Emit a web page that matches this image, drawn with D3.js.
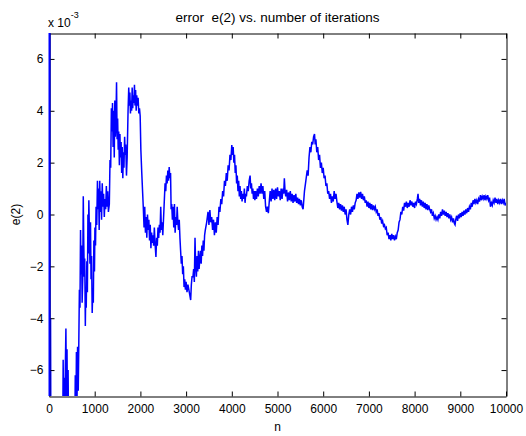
<!DOCTYPE html>
<html>
<head>
<meta charset="utf-8">
<script src="https://cdn.jsdelivr.net/npm/d3@7"></script>
<style>
  body { margin: 0; background: #fff; }
  text { font-family: "Liberation Sans", Arial, sans-serif; }
</style>
</head>
<body>
<div id="chart"></div>
<script>
// 1. SETUP
const width = 526;
const height = 436;
const margin = { top: 33, right: 20, bottom: 40, left: 49 };

// DATA: error e(2) (in units of 1e-3), [iteration, value]
const e2Trace = [
  [0, 30], [6, -30], [12, 20], [18, -1.3], [24, -15], [34, -4], [44, -11], [60, -8.5], [90, -10], [120, -8.2],
  [160, -9.5], [200, -8], [240, -9], [280, -7.6], [300, -8.5], [310, -5.6], [320, -7.9], [332, -6.3], [345, -8.8], [358, -5.8],
  [370, -4.4], [382, -7.2], [394, -5.2], [406, -8.0], [418, -6.0], [430, -9.0], [470, -10], [520, -8.5], [560, -9.2], [575, -6.2],
  [588, -8], [600, -5.3], [612, -7.4], [625, -5.1], [640, -6.8], [652, -5.0], [665, -2.9], [678, -3.6], [690, -0.6], [700, -2.3],
  [712, -1.2], [725, -3.4], [738, -2.5], [750, 0.7], [760, -1.0], [772, -2.4], [782, -1.7], [795, -4.3], [805, -2.8], [815, -3.6],
  [828, -1.8], [840, -3.0], [852, 0.0], [862, -1.5], [872, 0.55], [885, -0.8], [896, -1.9], [908, -0.3], [920, -2.5], [932, -1.6],
  [945, -3.8], [958, -2.9], [970, -3.4], [982, -1.0], [995, -2.2], [1005, -0.5], [1018, -1.2], [1030, 0.3], [1045, -0.4], [1060, 1.3],
  [1072, 0.2], [1085, 1.0], [1098, -0.6], [1110, 1.3], [1125, 0.1], [1138, 0.9], [1150, -0.2], [1165, 1.2], [1180, 0.3], [1195, 0.8],
  [1210, -0.1], [1225, 0.6], [1240, 0.2], [1255, 1.1], [1270, 0.3], [1285, 0.9], [1300, 0.1], [1320, 0.4], [1335, 2.1], [1350, 1.8],
  [1365, 4.1], [1378, 3.2], [1390, 4.3], [1402, 2.6], [1415, 4.0], [1428, 2.2], [1440, 4.4], [1452, 3.0], [1465, 3.6], [1478, 5.1],
  [1490, 2.9], [1502, 3.7], [1514, 2.5], [1526, 3.2], [1540, 1.9], [1552, 3.1], [1565, 2.2], [1578, 2.8], [1590, 1.6], [1602, 2.6],
  [1615, 1.4], [1628, 2.4], [1640, 1.8], [1655, 3.0], [1668, 2.3], [1680, 2.7], [1695, 1.5], [1710, 2.2], [1730, 4.0], [1745, 4.9],
  [1758, 4.2], [1770, 4.7], [1782, 3.9], [1795, 4.4], [1808, 4.0], [1820, 4.9], [1832, 4.1], [1845, 4.6], [1858, 4.3], [1870, 5.0],
  [1882, 4.2], [1895, 4.8], [1908, 4.0], [1920, 4.6], [1935, 4.2], [1950, 4.5], [1965, 3.9], [1980, 4.1], [1995, 3.8], [2010, 2.5],
  [2030, 1.6], [2050, 0.8], [2065, 0.2], [2080, -0.5], [2095, 0.3], [2110, -0.7], [2125, -0.1], [2140, -0.9], [2155, 0.0], [2170, -0.6],
  [2185, -0.2], [2200, -1.0], [2215, -0.4], [2230, -1.3], [2245, -0.7], [2260, -1.1], [2275, -0.8], [2290, -1.2], [2305, -0.5], [2320, -1.1],
  [2340, -1.64], [2355, -0.9], [2370, -1.2], [2385, -0.5], [2400, -0.9], [2415, -0.4], [2430, -0.7], [2445, 0.3], [2460, -0.6], [2475, -0.3],
  [2490, -0.8], [2505, -0.2], [2520, 0.4], [2540, 1.2], [2555, 0.9], [2570, 1.5], [2585, 1.2], [2600, 1.7], [2615, 1.3], [2630, 1.83],
  [2645, 1.4], [2660, 1.6], [2672, 0.2], [2685, 0.4], [2700, -0.2], [2715, 0.3], [2730, -0.5], [2745, 0.4], [2760, -0.7], [2775, -0.1],
  [2790, -0.4], [2805, 0.3], [2820, -0.3], [2835, -0.6], [2850, -0.2], [2865, -0.9], [2880, -1.4], [2895, -1.9], [2910, -1.6], [2925, -2.3],
  [2940, -2.0], [2955, -2.8], [2970, -2.5], [2985, -2.9], [3000, -2.6], [3020, -3.0], [3040, -2.7], [3060, -2.9], [3080, -3.1], [3100, -3.3],
  [3115, -2.7], [3130, -2.4], [3150, -2.4], [3165, -2.1], [3180, -2.6], [3195, -0.9], [3210, -2.0], [3225, -2.4], [3240, -1.6], [3255, -2.2],
  [3270, -1.4], [3285, -2.1], [3300, -1.7], [3315, -1.4], [3330, -1.9], [3345, -1.2], [3360, -1.6], [3375, -1.0], [3390, -1.4], [3405, -0.8],
  [3420, -0.6], [3450, -0.3], [3480, 0.1], [3500, -0.4], [3520, 0.17], [3540, -0.3], [3560, -0.1], [3580, -0.6], [3600, -0.2], [3620, -0.8],
  [3640, -0.3], [3660, -0.7], [3680, -0.1], [3700, -0.4], [3720, 0.3], [3740, 0.1], [3760, 0.6], [3780, 0.4], [3800, 0.9], [3820, 0.7],
  [3840, 1.3], [3860, 1.1], [3880, 1.6], [3900, 1.3], [3920, 1.9], [3940, 1.7], [3960, 2.3], [3980, 2.1], [4000, 2.68], [4015, 2.3],
  [4030, 2.6], [4045, 2.0], [4060, 2.3], [4075, 1.6], [4090, 1.9], [4105, 1.2], [4120, 1.5], [4135, 0.9], [4150, 1.3], [4165, 0.7],
  [4180, 1.1], [4195, 0.6], [4210, 0.9], [4225, 0.5], [4240, 0.8], [4260, 0.6], [4275, 1.0], [4290, 0.45], [4305, 0.8], [4320, 0.7],
  [4340, 1.1], [4360, 0.9], [4380, 1.3], [4400, 1.5], [4415, 1.0], [4430, 1.2], [4445, 0.8], [4460, 1.0], [4475, 0.6], [4490, 0.9],
  [4505, 0.55], [4520, 0.9], [4540, 0.6], [4560, 1.0], [4580, 0.7], [4600, 1.1], [4620, 0.8], [4640, 1.2], [4660, 0.8], [4680, 1.1],
  [4700, 0.6], [4720, 0.9], [4740, 0.3], [4760, 0.1], [4780, 0.3], [4800, 0.05], [4820, 0.5], [4840, 0.9], [4860, 0.5], [4880, 1.0],
  [4900, 0.6], [4920, 0.95], [4940, 0.55], [4960, 1.0], [4980, 0.6], [5000, 1.05], [5020, 0.7], [5040, 0.9], [5060, 0.55], [5080, 1.0],
  [5100, 0.6], [5120, 1.0], [5135, 0.8], [5150, 1.4], [5165, 0.9], [5180, 0.7], [5200, 0.95], [5220, 0.5], [5240, 0.85], [5260, 0.55],
  [5280, 0.9], [5300, 0.5], [5320, 0.8], [5340, 0.45], [5360, 0.75], [5380, 0.5], [5400, 0.8], [5420, 0.45], [5440, 0.65], [5460, 0.4],
  [5480, 0.6], [5500, 0.35], [5520, 0.55], [5540, 0.3], [5560, 0.2], [5590, 0.9], [5620, 1.3], [5650, 1.7], [5670, 1.5], [5690, 2.2],
  [5710, 2.6], [5730, 2.4], [5750, 2.8], [5770, 2.7], [5790, 3.0], [5810, 3.1], [5825, 2.7], [5840, 2.9], [5860, 2.4], [5880, 2.6],
  [5900, 2.1], [5920, 2.3], [5940, 1.8], [5960, 2.0], [5980, 1.6], [6000, 1.8], [6020, 1.4], [6040, 1.5], [6060, 1.1], [6080, 1.2],
  [6100, 0.8], [6120, 0.9], [6140, 0.6], [6160, 0.8], [6180, 0.45], [6200, 0.7], [6220, 0.5], [6240, 0.9], [6260, 0.6], [6280, 0.8],
  [6300, 0.5], [6320, 0.25], [6340, 0.45], [6360, 0.2], [6380, 0.4], [6400, 0.15], [6420, 0.35], [6440, 0.1], [6460, 0.3], [6480, 0.0],
  [6500, 0.2], [6520, -0.2], [6540, -0.4], [6560, 0.0], [6580, 0.2], [6600, 0.0], [6620, 0.3], [6640, 0.1], [6660, 0.35], [6680, 0.2],
  [6700, 0.45], [6720, 0.55], [6740, 0.8], [6760, 0.6], [6780, 0.85], [6800, 0.65], [6820, 0.87], [6840, 0.6], [6860, 0.8], [6880, 0.55],
  [6900, 0.7], [6920, 0.45], [6940, 0.55], [6960, 0.3], [6980, 0.5], [7000, 0.25], [7020, 0.45], [7040, 0.2], [7060, 0.4], [7080, 0.17],
  [7100, 0.35], [7120, 0.2], [7140, 0.3], [7160, 0.1], [7180, 0.2], [7200, -0.05], [7220, 0.05], [7240, -0.2], [7260, -0.1], [7280, -0.35],
  [7300, -0.25], [7320, -0.45], [7340, -0.4], [7360, -0.55], [7380, -0.5], [7400, -0.8], [7420, -0.7], [7440, -0.95], [7460, -0.8], [7480, -1.0],
  [7500, -0.75], [7520, -0.95], [7540, -0.8], [7560, -1.0], [7580, -0.85], [7600, -0.95], [7620, -0.7], [7640, -0.6], [7660, -0.3], [7680, -0.2],
  [7700, 0.1], [7720, 0.0], [7740, 0.3], [7760, 0.15], [7780, 0.45], [7800, 0.3], [7820, 0.5], [7840, 0.25], [7860, 0.45], [7880, 0.3],
  [7900, 0.55], [7920, 0.35], [7940, 0.5], [7960, 0.3], [7980, 0.45], [8000, 0.25], [8020, 0.5], [8040, 0.4], [8060, 0.6], [8075, 0.8],
  [8090, 0.45], [8110, 0.6], [8130, 0.35], [8150, 0.55], [8170, 0.3], [8190, 0.5], [8210, 0.25], [8230, 0.45], [8250, 0.2], [8270, 0.4],
  [8290, 0.17], [8310, 0.35], [8330, 0.2], [8350, 0.1], [8370, 0.2], [8390, -0.05], [8410, 0.05], [8430, -0.15], [8450, -0.05], [8470, -0.2],
  [8490, -0.1], [8510, -0.2], [8530, 0.0], [8550, -0.15], [8570, 0.1], [8590, -0.05], [8610, 0.2], [8630, 0.0], [8650, 0.15], [8670, -0.05],
  [8690, 0.1], [8710, -0.1], [8730, 0.05], [8750, -0.15], [8770, 0.0], [8790, -0.2], [8810, -0.1], [8830, -0.3], [8850, -0.15], [8870, -0.35],
  [8885, -0.4], [8900, -0.2], [8920, -0.05], [8940, -0.25], [8960, 0.0], [8980, -0.15], [9000, 0.05], [9020, -0.1], [9040, 0.1], [9060, -0.05],
  [9080, 0.15], [9100, 0.0], [9120, 0.2], [9140, 0.05], [9160, 0.25], [9180, 0.1], [9200, 0.3], [9220, 0.2], [9240, 0.45], [9260, 0.3],
  [9280, 0.55], [9300, 0.4], [9320, 0.6], [9340, 0.45], [9360, 0.55], [9380, 0.4], [9400, 0.6], [9420, 0.5], [9440, 0.75], [9460, 0.55],
  [9480, 0.7], [9500, 0.6], [9520, 0.75], [9540, 0.55], [9560, 0.7], [9580, 0.6], [9600, 0.75], [9620, 0.55], [9640, 0.65], [9660, 0.3],
  [9680, 0.45], [9700, 0.35], [9720, 0.55], [9740, 0.45], [9760, 0.65], [9780, 0.45], [9800, 0.6], [9820, 0.4], [9840, 0.55], [9860, 0.45],
  [9880, 0.6], [9900, 0.4], [9920, 0.55], [9940, 0.45], [9960, 0.6], [9980, 0.35], [10000, 0.45]
];

const xTicks = [0, 1000, 2000, 3000, 4000, 5000, 6000, 7000, 8000, 9000, 10000];
const yTicks = [-6, -4, -2, 0, 2, 4, 6];

const titleText = "error  e(2) vs. number of iterations";
const xLabel = "n";
const yLabel = "e(2)";

const svg = d3.select("#chart")
    .append("svg")
    .attr("width", width)
    .attr("height", height)
    .attr("viewBox", [0, 0, width, height])
    .style("background", "#fff");

// --- SCALES ---
const x = d3.scaleLinear()
    .domain([0, 10000])
    .range([margin.left, width - margin.right]);

const y = d3.scaleLinear()
    .domain([-7, 7])
    .range([height - margin.bottom, margin.top]);

const fontFamily = '"Liberation Sans", Arial, Helvetica, sans-serif';

// clip the trace to the axes box, like matlab does
svg.append("clipPath")
    .attr("id", "plot-clip")
    .append("rect")
    .attr("x", margin.left)
    .attr("y", margin.top)
    .attr("width", width - margin.left - margin.right)
    .attr("height", height - margin.top - margin.bottom);

// --- LINE ---
const line = d3.line()
    .x(d => x(d[0]))
    .y(d => y(d[1]));

svg.append("path")
    .datum(e2Trace)
    .attr("clip-path", "url(#plot-clip)")
    .attr("fill", "none")
    .attr("stroke", "#0000ff")
    .attr("stroke-width", 1.5)
    .attr("stroke-linejoin", "miter")
    .attr("d", line);

// --- AXES (ticks pointing inward, box on) ---
const styleAxis = g => g
    .attr("font-family", fontFamily)
    .attr("font-size", 12)
    .call(g => g.selectAll("text").attr("fill", "#000"));

svg.append("g")
    .attr("transform", `translate(0, ${height - margin.bottom + 0.5})`)
    .call(d3.axisBottom(x).tickValues(xTicks).tickSizeInner(-5).tickSizeOuter(0).tickPadding(8).tickFormat(d3.format("d")))
    .call(styleAxis);

svg.append("g")
    .attr("transform", `translate(0, ${margin.top + 0.5})`)
    .call(d3.axisTop(x).tickValues(xTicks).tickSizeInner(-5).tickSizeOuter(0).tickFormat(""))
    .call(styleAxis);

svg.append("g")
    .attr("transform", `translate(${margin.left + 0.5}, 0)`)
    .call(d3.axisLeft(y).tickValues(yTicks).tickSizeInner(-5).tickSizeOuter(0).tickPadding(6).tickFormat(d3.format("d")))
    .call(styleAxis);

svg.append("g")
    .attr("transform", `translate(${width - margin.right + 0.5}, 0)`)
    .call(d3.axisRight(y).tickValues(yTicks).tickSizeInner(-5).tickSizeOuter(0).tickFormat(""))
    .call(styleAxis);

// redraw the start of the trace over the left axis line
svg.append("line")
    .attr("x1", x(0) + 0.5)
    .attr("x2", x(0) + 0.5)
    .attr("y1", margin.top)
    .attr("y2", height - margin.bottom)
    .attr("stroke", "#0000ff")
    .attr("stroke-width", 2);

// --- LABELS ---
svg.append("text")
    .attr("x", (margin.left + width - margin.right) / 2)
    .attr("y", 22)
    .attr("text-anchor", "middle")
    .attr("font-family", fontFamily)
    .attr("font-size", 13.5)
    .style("white-space", "pre")
    .text(titleText);

const expo = svg.append("text")
    .attr("x", 48)
    .attr("y", 27)
    .attr("font-family", fontFamily)
    .attr("font-size", 12);
expo.append("tspan").text("x 10");
expo.append("tspan")
    .attr("dy", -9)
    .attr("font-size", 9)
    .text("-3");

svg.append("text")
    .attr("x", (margin.left + width - margin.right) / 2)
    .attr("y", 431)
    .attr("text-anchor", "middle")
    .attr("font-family", fontFamily)
    .attr("font-size", 12)
    .text(xLabel);

svg.append("text")
    .attr("transform", `translate(20, ${y(0)}) rotate(-90)`)
    .attr("text-anchor", "middle")
    .attr("font-family", fontFamily)
    .attr("font-size", 12)
    .text(yLabel);
</script>
</body>
</html>
